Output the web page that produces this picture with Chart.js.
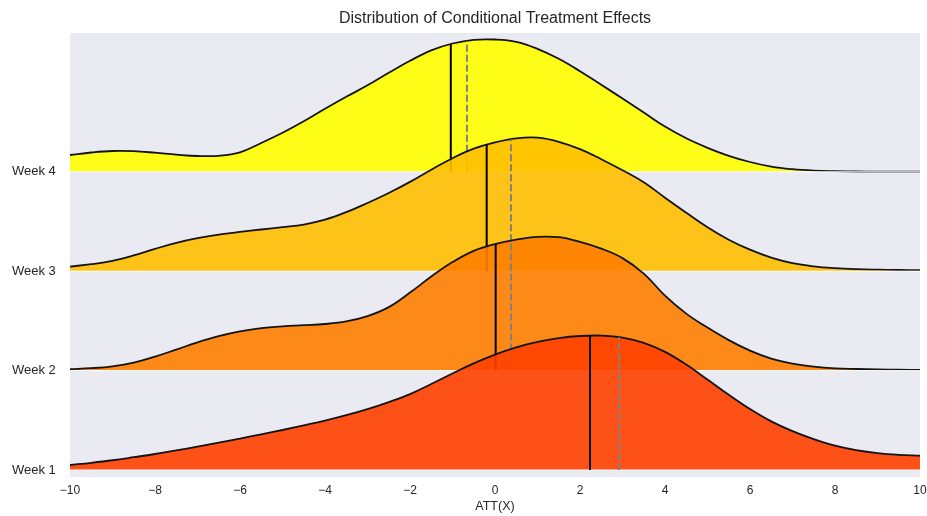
<!DOCTYPE html>
<html lang="en">
<head>
    <meta charset="UTF-8">
    <title>Distribution of Conditional Treatment Effects</title>
    <style>
        html, body { margin: 0; padding: 0; background: #fff; }
        #wrap { width: 927px; height: 516px; }
    </style>
</head>
<body>
    <div id="wrap"><canvas id="myChart" width="927" height="516"></canvas></div>
    <script src="https://cdn.jsdelivr.net/npm/chart.js@4/dist/chart.umd.min.js"></script>
    <script>

        // ridge labels, bottom row first
        const weeks = ['Week 1', 'Week 2', 'Week 3', 'Week 4'];

        // x grid of the density curves
        const attX = [-10, -9.5, -9, -8.5, -8, -7.5, -7, -6.5, -6, -5.5, -5, -4.5, -4, -3.5, -3, -2.5, -2, -1.5, -1, -0.5,
                      0, 0.5, 1, 1.5, 2, 2.5, 3, 3.5, 4, 4.5, 5, 5.5, 6, 6.5, 7, 7.5, 8, 8.5, 9, 9.5, 10];

        // scaled density of each week (row spacing = rowStep)
        const week1 = [5, 7.2, 9.75, 12.8, 16, 19.6, 23.4, 27.4, 31.45, 35.7, 40, 44.6, 49.4, 54.8, 60.9, 67.9, 75.9, 86, 96.5, 106.6,
                       115.4, 122.65, 128.15, 131.9, 134, 134.4, 132.4, 127.15, 118.15, 105.4, 90.4, 75.15, 60.9, 48.6, 38.9, 30.9, 24.4, 19.9, 16.9, 15.2, 14.4];
        const week2 = [1.4, 2.4, 4.3, 8, 14, 21, 28.3, 34.5, 39.2, 42.5, 44.3, 45.4, 46.6, 49.2, 54.5, 63.5, 78, 94, 108.5, 119.8,
                       126.5, 131, 133.8, 133.4, 128.7, 122, 112.5, 97, 75, 57, 43, 30.5, 20, 12, 7, 4, 2.3, 1.6, 1.2, 0.9, 0.7];
        const week3 = [4.6, 7, 10.4, 15.8, 22.3, 28.3, 33, 36.6, 39.3, 41.7, 44, 46.6, 51.5, 59, 68.2, 78.2, 89.3, 101.5, 113, 122.5,
                       128.8, 132.8, 133.5, 129.4, 122, 112, 101, 89, 73.5, 58.5, 44, 31.5, 21.5, 13.5, 8, 4.8, 3, 2, 1.5, 1.2, 1];
        const week4 = [16.8, 19.3, 20.8, 20.6, 19.1, 17.2, 15.8, 16, 19.5, 28.8, 39, 50.5, 63, 75, 86.5, 99, 111, 121.5, 128.3, 132,
                       132.3, 130, 123, 113, 100.6, 87, 73.3, 59.3, 45.2, 33.5, 24, 16, 9.8, 5.2, 2.6, 1.2, 0.6, 0.3, 0.2, 0.1, 0.1];

        // vertical markers per week (solid black / dashed grey)
        const solidAtt = [2.235, 0.016, -0.196, -1.04];
        const dashedAtt = [2.92, 0.376, 0.376, -0.66];

        const xTicks = [-10, -8, -6, -4, -2, 0, 2, 4, 6, 8, 10];

        const rowStep = 99.4;
        const rowOffset = weeks.map((w, i) => i * rowStep);

        const fills = [
            'rgba(255, 64, 0, 0.9)',
            'rgba(255, 128, 0, 0.9)',
            'rgba(255, 191, 0, 0.9)',
            'rgba(255, 255, 0, 0.9)'
        ];

        const series = [week1, week2, week3, week4];
        const FONT = 'Liberation Sans, Arial, sans-serif';

        function heightAt(vals, x) {
            for (let i = 0; i < attX.length - 1; i++) {
                if (x >= attX[i] && x <= attX[i + 1]) {
                    const t = (x - attX[i]) / (attX[i + 1] - attX[i]);
                    return vals[i] + t * (vals[i + 1] - vals[i]);
                }
            }
            return 0;
        }

        const datasets = [];
        series.forEach((vals, k) => {
            const off = rowOffset[k];
            const base = k * 10;
            // curve with fill down to its own baseline
            datasets.push({
                label: weeks[k],
                data: attX.map((x, i) => ({ x: x, y: off + vals[i] })),
                borderColor: '#141414',
                borderWidth: 1.8,
                backgroundColor: fills[k],
                fill: { value: off },
                pointRadius: 0,
                tension: 0.4,
                order: base + 4
            });
            // thin white baseline
            datasets.push({
                data: [{ x: -10, y: off }, { x: 10, y: off }],
                borderColor: '#ffffff',
                borderWidth: 1,
                pointRadius: 0,
                fill: false,
                order: base + 3
            });
            datasets.push({
                data: [{ x: solidAtt[k], y: off }, { x: solidAtt[k], y: off + heightAt(vals, solidAtt[k]) }],
                borderColor: '#000000',
                borderWidth: 2,
                pointRadius: 0,
                fill: false,
                order: base + 2
            });
            datasets.push({
                data: [{ x: dashedAtt[k], y: off }, { x: dashedAtt[k], y: off + heightAt(vals, dashedAtt[k]) }],
                borderColor: '#808080',
                borderWidth: 2,
                borderDash: [7, 3],
                pointRadius: 0,
                fill: false,
                order: base + 1
            });
        });

        const bgPlugin = {
            id: 'bg',
            beforeDraw(chart) {
                const a = chart.chartArea;
                const ctx = chart.ctx;
                ctx.save();
                ctx.fillStyle = '#EAEAF2';
                ctx.fillRect(a.left, a.top, a.right - a.left, a.bottom - a.top);
                ctx.restore();
            }
        };

        const ctx = document.getElementById('myChart').getContext('2d');
        const myChart = new Chart(ctx, {
            type: 'line',
            data: { datasets: datasets },
            plugins: [bgPlugin],
            options: {
                responsive: false,
                animation: false,
                layout: { padding: { left: 12, right: 0, top: 0, bottom: 0 } },
                plugins: {
                    legend: { display: false },
                    tooltip: { enabled: false }
                },
                scales: {
                    x: {
                        type: 'linear',
                        min: -10,
                        max: 10,
                        afterFit: (s) => { s.height = 39; s.paddingRight = 7; s.paddingLeft = 0; },
                        afterBuildTicks: (s) => { s.ticks = xTicks.map(v => ({ value: v })); },
                        grid: { display: false, drawTicks: false },
                        border: { display: false },
                        ticks: {
                            padding: 6,
                            color: '#262626',
                            font: { family: FONT, size: 12 },
                            callback: (v) => String(v).replace('-', '\u2212')
                        },
                        title: {
                            display: true,
                            text: 'ATT(X)',
                            color: '#262626',
                            font: { family: FONT, size: 12.5 },
                            padding: { top: 0, bottom: 1.5 }
                        }
                    },
                    // top axis only carries the chart title, centred over the plot area
                    top: {
                        type: 'linear',
                        position: 'top',
                        display: true,
                        min: -10,
                        max: 10,
                        afterFit: (s) => { s.height = 33; s.paddingRight = 7; s.paddingLeft = 0; },
                        grid: { display: false, drawTicks: false },
                        border: { display: false },
                        ticks: { display: false },
                        title: {
                            display: true,
                            text: 'Distribution of Conditional Treatment Effects',
                            color: '#262626',
                            font: { family: FONT, size: 16 },
                            padding: { top: 9.4, bottom: 0 }
                        }
                    },
                    y: {
                        type: 'linear',
                        min: -7,
                        max: 437,
                        afterFit: (s) => { s.width = 58; },
                        afterBuildTicks: (s) => { s.ticks = rowOffset.map(v => ({ value: v })); },
                        grid: { display: false, drawTicks: false },
                        border: { display: false },
                        ticks: {
                            crossAlign: 'far',
                            color: '#262626',
                            font: { family: FONT, size: 13 },
                            callback: (v) => weeks[rowOffset.indexOf(v)]
                        }
                    }
                }
            }
        });
    </script>
</body>
</html>
